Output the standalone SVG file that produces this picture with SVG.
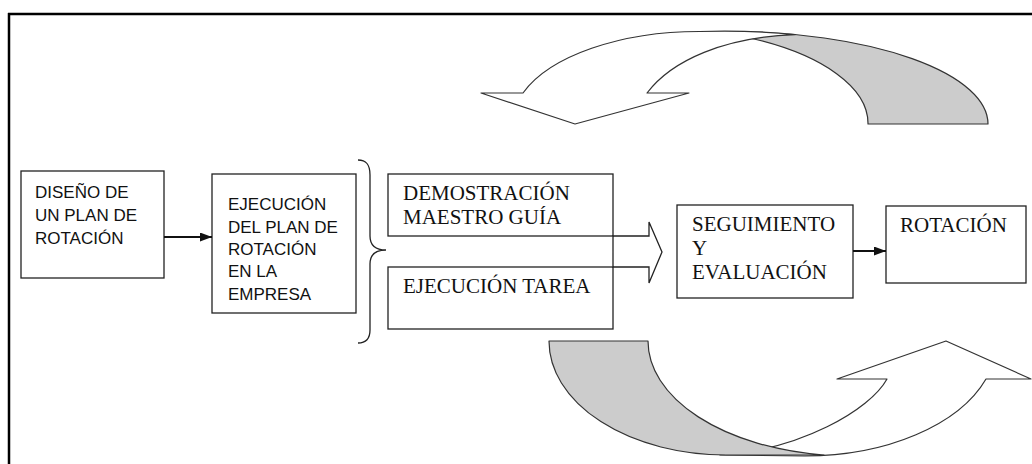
<svg xmlns="http://www.w3.org/2000/svg" width="1032" height="464" viewBox="0 0 1032 464">
  <defs>
    <style>
      .box { fill: #ffffff; stroke: #222222; stroke-width: 1.3; }
      .sans { font-family: "Liberation Sans", Arial, sans-serif; font-size: 17px; fill: #111111; }
      .serif { font-family: "Liberation Serif", "Times New Roman", serif; font-size: 21px; fill: #111111; }
      .line { fill: none; stroke: #111111; stroke-width: 2; }
      .thin { fill: none; stroke: #222222; stroke-width: 1.3; }
      .band-gray { fill: #cccccc; stroke: #333333; stroke-width: 1.2; stroke-linejoin: round; }
      .band-white { fill: #ffffff; stroke: #333333; stroke-width: 1.2; stroke-linejoin: round; }
      .frame { fill: none; stroke: #000000; stroke-width: 2.5; }
    </style>
    <marker id="arrow" markerWidth="12" markerHeight="9" refX="12" refY="4.5" orient="auto" markerUnits="userSpaceOnUse">
      <path d="M0,0 L12,4.5 L0,9 Z" fill="#111111"/>
    </marker>
  </defs>

  <rect x="0" y="0" width="1032" height="464" fill="#ffffff"/>

  <g id="frame">
    <line class="frame" x1="8" y1="14" x2="1032" y2="14"/>
    <line class="frame" x1="9" y1="13" x2="9" y2="464"/>
  </g>

  <g id="cycle-top">
    <path class="band-gray" d="M750,38 A218,96 0 0 1 868,124 L988,124 A259,92.5 0 0 0 729,31.5 L750,38 Z"/>
    <path class="band-white" d="M481,93 L523,93 A187,92.5 0 0 1 700,31.5 A259,92.5 0 0 1 795,34.6 C725,37 672,60 647,93 L689,93 L575,124 Z"/>
  </g>

  <g id="cycle-bottom">
    <path class="band-white" d="M837,379 L887,379 C870,410 800,450 720,455 L805,456 A192,115 0 0 0 986,379 L1031,379 L946,341 Z"/>
    <path class="band-gray" d="M549,341 L648,341 A202,115 0 0 0 824,455 L726,455 A177,114 0 0 1 549,341 Z"/>
  </g>

  <g id="node-diseno">
    <rect class="box" x="21" y="171" width="143" height="107"/>
    <text class="sans" x="35" y="198">DISEÑO DE</text>
    <text class="sans" x="35" y="221">UN PLAN DE</text>
    <text class="sans" x="35" y="244">ROTACIÓN</text>
  </g>

  <g id="node-ejecucion-plan">
    <rect class="box" x="212" y="174" width="144" height="139"/>
    <text class="sans" x="228" y="210">EJECUCIÓN</text>
    <text class="sans" x="228" y="232.5">DEL PLAN DE</text>
    <text class="sans" x="228" y="255">ROTACIÓN</text>
    <text class="sans" x="228" y="277">EN LA</text>
    <text class="sans" x="228" y="299.5">EMPRESA</text>
  </g>

  <g id="node-demostracion">
    <rect class="box" x="388" y="174" width="225" height="62"/>
    <text class="serif" x="403" y="200">DEMOSTRACIÓN</text>
    <text class="serif" x="403" y="224">MAESTRO GUÍA</text>
  </g>

  <g id="node-ejecucion-tarea">
    <rect class="box" x="388" y="267" width="225" height="62"/>
    <text class="serif" x="403" y="293">EJECUCIÓN TAREA</text>
  </g>

  <g id="node-seguimiento">
    <rect class="box" x="677" y="205" width="176" height="93"/>
    <text class="serif" x="692" y="231">SEGUIMIENTO</text>
    <text class="serif" x="692" y="255">Y</text>
    <text class="serif" x="692" y="279">EVALUACIÓN</text>
  </g>

  <g id="node-rotacion">
    <rect class="box" x="886" y="206" width="140" height="77"/>
    <text class="serif" x="900" y="232">ROTACIÓN</text>
  </g>

  <g id="connectors">
    <line class="line" x1="164" y1="237" x2="212" y2="237" marker-end="url(#arrow)"/>
    <path class="thin" d="M358,160 C366,160 370,164 370,175 L370,236 C370,246 376,250 386,250 C376,250 370,254 370,264 L370,330 C370,339 366,343 358,343"/>
    <path class="thin" d="M613,236 L649,236 L649,222 L662,252 L649,283 L649,267 L613,267 Z"/>
    <line class="line" x1="853" y1="251" x2="886" y2="251" marker-end="url(#arrow)"/>
  </g>
</svg>
